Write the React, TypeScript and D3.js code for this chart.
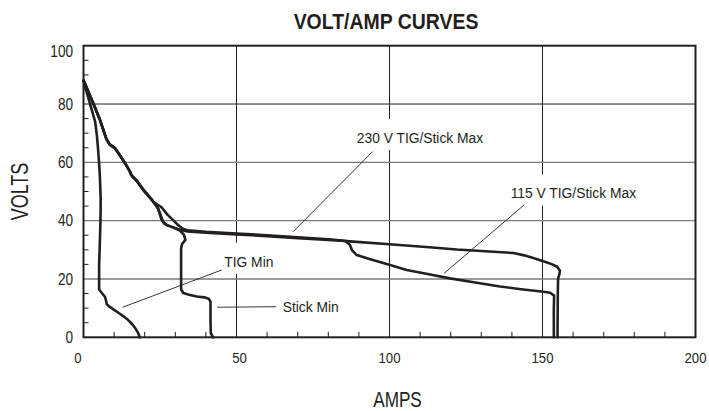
import React from 'react';
import * as d3 from 'd3';

// Curves: [amps, volts]
const tigMin: [number, number][] = [
  [0, 88], [0.8, 85], [1.6, 82], [2.7, 78], [3.8, 74], [4.4, 69], [4.8, 64],
  [5.2, 58], [5.4, 53.9], [5.6, 48], [5.6, 43.6], [5.5, 38], [5.3, 31], [5.1, 25],
  [5.1, 20], [5.1, 16.4], [6.0, 15.2], [7.0, 13.9], [7.4, 12.4], [7.6, 11.3],
  [8.4, 10.6], [10.0, 9.4], [11.3, 8.5], [13.2, 7.1], [14.6, 5.9], [16.0, 4.4],
  [17.0, 3.0], [17.8, 1.6], [18.4, 0],
];

const stickMin: [number, number][] = [
  [0, 88], [0.2, 87.5], [1.4, 84.5], [3.0, 80.7], [5.2, 75], [7.4, 68.2], [8.4, 66.4],
  [10.1, 65.1], [11.9, 62.4], [13.4, 60.0], [15.1, 57.0], [15.5, 55.8], [17.2, 54],
  [19.3, 51], [22.4, 47.1], [24.4, 44.2], [25.4, 40.6], [26.6, 38.8], [29.2, 37.7],
  [31.4, 36.7], [32.8, 35.2], [33.3, 33.4], [32.2, 32.0], [31.9, 30.5], [31.9, 25],
  [31.9, 16.4], [32.6, 15.2], [34.5, 14.6], [37.0, 14.0], [39.5, 13.7], [40.9, 13.2],
  [41.5, 12.3], [41.5, 6], [41.6, 1.4], [42.4, 0],
];

const max230: [number, number][] = [
  [0, 88], [0.4, 87.3], [1.7, 84], [3.2, 80.2], [5.4, 74.5], [7.6, 67.7], [8.6, 66.0],
  [10.3, 64.8], [12.0, 62.2], [13.6, 59.7], [15.4, 56.4], [16.0, 55.0], [17.5, 53.5],
  [19.5, 50.5], [22.8, 46.5], [25.5, 44.6], [27.5, 42.0], [29.3, 40.2], [31.0, 38.4],
  [32.5, 37.2], [34.0, 36.7], [40, 36.2], [50, 35.6], [60, 35.0], [67.5, 34.5],
  [80, 33.6], [87, 32.9], [100, 31.9], [113, 30.9], [122, 30.1], [130, 29.6],
  [140.5, 28.9], [144, 28.1], [147, 27.2], [150.3, 26.1], [153, 25.1], [154.8, 24.2],
  [155.7, 22.8], [155.5, 21.5], [155.1, 20.2], [155, 15], [154.9, 0],
];

const max115: [number, number][] = [
  [0, 88], [0.2, 87.8], [1.5, 84.3], [3.1, 80.5], [5.3, 74.8], [7.5, 68.0], [8.5, 66.2],
  [10.2, 65.0], [12, 62.3], [13.5, 59.9], [15.2, 56.8], [15.6, 55.6], [17.3, 53.8],
  [19.4, 50.8], [22.5, 46.9], [24, 44.8], [25, 42.5], [26.1, 39.4], [27.5, 38.3],
  [29.3, 37.7], [31.5, 36.9], [34, 36.3], [40, 35.9], [50, 35.3], [60, 34.7],
  [70, 34.0], [80, 33.4], [85.5, 33.0], [87.0, 31.8], [87.8, 29.8], [89.3, 28.2],
  [94, 26.7], [100.2, 24.8], [105.6, 23.1], [112, 21.8], [119.8, 20.2], [128, 18.8],
  [136.1, 17.4], [143, 16.5], [150.3, 15.6], [152.5, 15.3], [153.8, 14.3],
  [153.7, 10], [153.7, 0],
];

const series = [tigMin, stickMin, max115, max230];

const xTicks = [0, 50, 100, 150, 200];
const yTicks = [0, 20, 40, 60, 80, 100];
const xMinor = d3.range(10, 200, 10).filter(v => v % 50 !== 0);
const yMinor = d3.range(5, 100, 5).filter(v => v % 20 !== 0);

// label text anchor (left, baseline) and leader line, in amps/volts
const labels = [
  { text: '230 V TIG/Stick Max', at: [89.3, 66.6], from: [94.5, 63.7], to: [68.5, 36.2] },
  { text: '115 V TIG/Stick Max', at: [139.6, 47.6], from: [144, 45.4], to: [117.8, 21.9] },
  { text: 'TIG Min', at: [46.0, 24.2], from: [45.2, 23.1], to: [12.8, 10.3] },
  { text: 'Stick Min', at: [65.1, 8.8], from: [62.9, 10.5], to: [43.7, 10.3] },
];

const FONT = '"Liberation Sans", Arial, Helvetica, sans-serif';
const INK = '#231f20';

const App = () => {
  const width = 709;
  const height = 411;
  const x = d3.scaleLinear().domain([0, 200]).range([83.5, 695.5]);
  const y = d3.scaleLinear().domain([0, 100]).range([337.3, 45.7]);

  const line = d3.line<[number, number]>()
    .x(d => x(d[0]))
    .y(d => y(d[1]));

  const labelScale = 0.91;
  const labelSize = 15.2;

  return (
    <svg width={width} height={height} style={{ position: 'fixed', left: 0, top: 0, background: '#fff' }}
      fontFamily={FONT}>
      {/* title */}
      <text transform={`translate(386,29) scale(0.865,1)`} textAnchor="middle" fontSize={22.5}
        fontWeight="bold" fill={INK}>VOLT/AMP CURVES</text>

      {/* grid */}
      {[50, 100, 150].map(v => (
        <line key={'gx' + v} x1={x(v)} x2={x(v)} y1={y(100)} y2={y(0)} stroke={INK} strokeWidth={1} />
      ))}
      {[20, 40, 60, 80].map(v => (
        <line key={'gy' + v} x1={x(0)} x2={x(200)} y1={y(v)} y2={y(v)}
          stroke={v === 80 ? INK : '#7a7a7a'} strokeWidth={v === 80 ? 1 : 1.3} />
      ))}

      {/* minor ticks */}
      {yMinor.map(v => (
        <line key={'my' + v} x1={x(0)} x2={x(0) + 5} y1={y(v)} y2={y(v)} stroke={INK} strokeWidth={1} />
      ))}
      {xMinor.map(v => (
        <line key={'mx' + v} x1={x(v)} x2={x(v)} y1={y(0)} y2={y(0) - 5.5} stroke={INK} strokeWidth={1} />
      ))}

      {/* label backgrounds cut the grid */}
      {labels.map(l => (
        <rect key={'bg' + l.text} x={x(l.at[0]) - 3} y={y(l.at[1]) - 24}
          width={l.text.length * labelSize * 0.47 * labelScale + 8} height={31} fill="#fff" />
      ))}

      {/* leaders */}
      {labels.map(l => (
        <line key={'ld' + l.text} x1={x(l.from[0])} y1={y(l.from[1])} x2={x(l.to[0])} y2={y(l.to[1])}
          stroke={INK} strokeWidth={0.9} />
      ))}
      {labels.map(l => (
        <text key={'lt' + l.text} transform={`translate(${x(l.at[0])},${y(l.at[1])}) scale(${labelScale},1)`}
          fontSize={labelSize} fill={INK}>{l.text}</text>
      ))}

      {/* curves */}
      {series.map((s, i) => (
        <path key={'s' + i} d={line(s) || ''} fill="none" stroke={INK} strokeWidth={2.6}
          strokeLinejoin="round" strokeLinecap="round" />
      ))}

      {/* frame */}
      <rect x={x(0)} y={y(100)} width={x(200) - x(0)} height={y(0) - y(100)} fill="none"
        stroke={INK} strokeWidth={2} />

      {/* tick labels */}
      {yTicks.map(v => (
        <text key={'ty' + v} transform={`translate(73,${y(v) + 5.8 + (v === 100 ? 5 : 0)}) scale(0.85,1)`}
          textAnchor="end" fontSize={16} fill={INK}>{v}</text>
      ))}
      {xTicks.map(v => (
        <text key={'tx' + v} transform={`translate(${x(v) + (v === 0 ? -5.5 : v === 50 ? 3 : 0)},362.7) scale(0.85,1)`}
          textAnchor="middle" fontSize={15.5} fill={INK}>{v}</text>
      ))}

      {/* axis titles */}
      <text transform={`translate(397.5,406.5) scale(0.78,1)`} textAnchor="middle" fontSize={22}
        fill={INK}>AMPS</text>
      <text transform={`translate(28.3,191.5) rotate(-90) scale(0.78,1)`} textAnchor="middle"
        fontSize={23} fill={INK}>VOLTS</text>
    </svg>
  );
};

export default App;
